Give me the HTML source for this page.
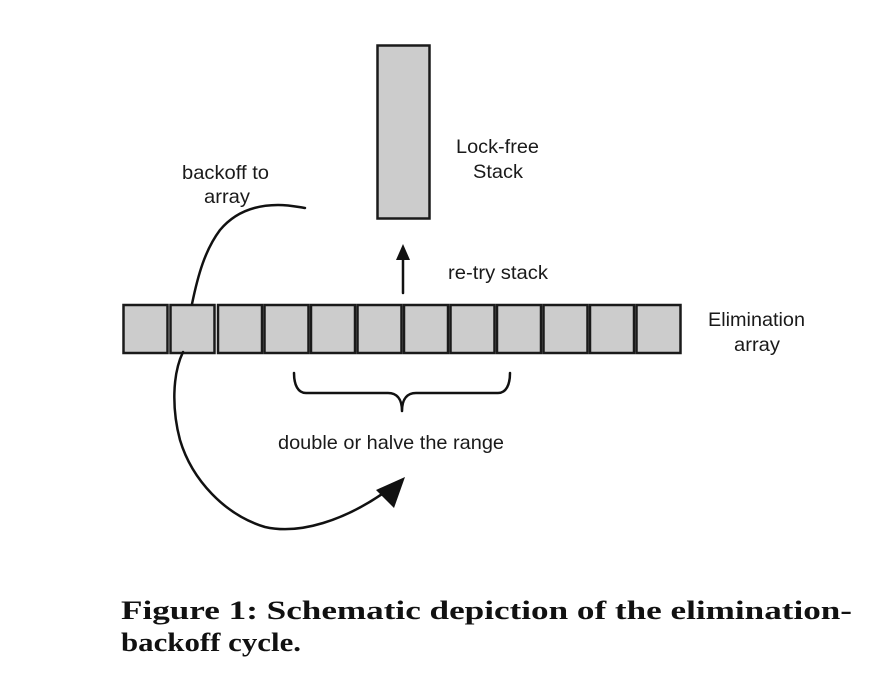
<!DOCTYPE html>
<html><head><style>
body{margin:0;background:#fff;}
svg{display:block;}
.t{font-family:"Liberation Sans",sans-serif;font-size:19.5px;fill:#1a1a1a;}
.c{font-family:"Liberation Serif",serif;font-weight:bold;font-size:26px;fill:#111;}
</style></head><body>
<svg width="890" height="688" viewBox="0 0 890 688" xmlns="http://www.w3.org/2000/svg">
<rect x="377.5" y="45.5" width="52" height="173" fill="#cccccc" stroke="#1a1a1a" stroke-width="2.5"/>
<g fill="#cccccc" stroke="#1a1a1a" stroke-width="2.5">
<rect x="123.5" y="305" width="44" height="48"/>
<rect x="170.5" y="305" width="44" height="48"/>
<rect x="218" y="305" width="44" height="48"/>
<rect x="264.5" y="305" width="44" height="48"/>
<rect x="311" y="305" width="44" height="48"/>
<rect x="357.5" y="305" width="44" height="48"/>
<rect x="404" y="305" width="44" height="48"/>
<rect x="450.5" y="305" width="44" height="48"/>
<rect x="497" y="305" width="44" height="48"/>
<rect x="543.5" y="305" width="44" height="48"/>
<rect x="590" y="305" width="44" height="48"/>
<rect x="636.5" y="305" width="44" height="48"/>
</g>
<g fill="none" stroke="#111" stroke-width="2.5" stroke-linejoin="round" stroke-linecap="round">
<path d="M192,304 C198,275 205,250 220,230 C235,212 255,205 278,205 C290,205 298,207 305,208"/>
<path d="M183,352 C172,375 172,410 180,440 C192,480 225,515 265,527 C300,535 345,520 385,492"/>
<path d="M294,373 C294,385 298,393 306,393 L388,393 C396,393 402,398 402,411 M402,411 C402,398 408,393 416,393 L498,393 C506,393 510,385 510,373"/>
<path d="M403,293 L403,258"/>
</g>
<polygon points="403,244 396,260 410,260" fill="#111"/>
<polygon points="405,477 376,490 394,508" fill="#111"/>
<text class="t" x="182" y="179" textLength="87" lengthAdjust="spacingAndGlyphs">backoff to</text>
<text class="t" x="204" y="203" textLength="46" lengthAdjust="spacingAndGlyphs">array</text>
<text class="t" x="456" y="153" textLength="83" lengthAdjust="spacingAndGlyphs">Lock-free</text>
<text class="t" x="473" y="178" textLength="50" lengthAdjust="spacingAndGlyphs">Stack</text>
<text class="t" x="448" y="279" textLength="100" lengthAdjust="spacingAndGlyphs">re-try stack</text>
<text class="t" x="708" y="326" textLength="97" lengthAdjust="spacingAndGlyphs">Elimination</text>
<text class="t" x="734" y="351" textLength="46" lengthAdjust="spacingAndGlyphs">array</text>
<text class="t" x="278" y="449" textLength="226" lengthAdjust="spacingAndGlyphs">double or halve the range</text>
<text class="c" x="121" y="619" textLength="731" lengthAdjust="spacingAndGlyphs">Figure 1: Schematic depiction of the elimination-</text>
<text class="c" x="121" y="651" textLength="180" lengthAdjust="spacingAndGlyphs">backoff cycle.</text>
</svg>
</body></html>
